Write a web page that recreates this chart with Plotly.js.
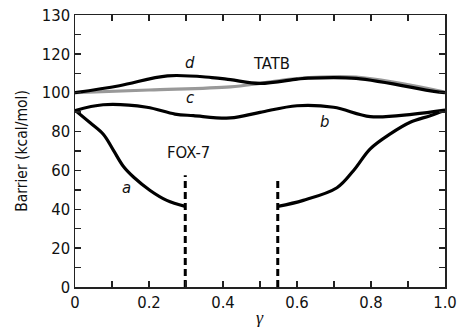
<!DOCTYPE html>
<html>
<head>
<meta charset="utf-8">
<script src="https://cdn.plot.ly/plotly-3.0.1.min.js"></script>
<style>html,body{margin:0;padding:0;background:#fff;}</style>
</head>
<body>
<div id="chart" style="width:458px;height:327px;"></div>
<script>
// Curve d (TATB, black)
var dX = [0, 0.12, 0.25, 0.37, 0.42, 0.5, 0.6, 0.63, 0.76, 0.97, 1.0];
var dY = [100, 103.6, 108.7, 107.8, 106.7, 104.8, 107, 107.5, 107.4, 100.7, 100];
// Curve c (TATB, grey)
var cX = [0, 0.2, 0.42, 0.5, 0.6, 0.76, 1.0];
var cY = [100, 101.4, 103, 104.8, 107.3, 108, 100.3];
// Curve b (FOX-7)
var bX = [0, 0.076, 0.194, 0.27, 0.32, 0.42, 0.5, 0.6, 0.699, 0.798, 0.915, 1.0];
var bY = [90.8, 93.8, 92.5, 89, 88.2, 87, 89.9, 93.3, 92.5, 87.7, 89, 91];
// Curve a (FOX-7), left and right branches
var aLeftX = [0, 0.041, 0.077, 0.104, 0.131, 0.158, 0.203, 0.248, 0.298];
var aLeftY = [91, 84.5, 78.5, 70.3, 62, 56.6, 49.7, 44.6, 41.5];
var aRightX = [0.548, 0.617, 0.708, 0.753, 0.798, 0.852, 0.906, 0.96, 1.0];
var aRightY = [41.5, 44.6, 51.1, 60, 71.1, 78.8, 84.8, 88.2, 91];
// Dashed vertical markers
var dashLeftX = [0.298, 0.298];
var dashLeftY = [0, 57.5];
var dashRightX = [0.548, 0.548];
var dashRightY = [0, 56];
// Ticks
var xTickVals = [0, 0.2, 0.4, 0.6, 0.8, 1.0];
var xTickText = ["0", "0.2", "0.4", "0.6", "0.8", "1.0"];
var yTickVals = [0, 20, 40, 60, 80, 100, 120, 140];
var yTickText = ["0", "20", "40", "60", "80", "100", "120", "130"];
// Labels
var labelText = ["d", "TATB", "c", "b", "FOX-7", "a"];
var labelX = [0.311, 0.53, 0.311, 0.673, 0.306, 0.138];
var labelY = [115.4, 114.9, 97.4, 85.1, 69.2, 51.3];
var labelItalic = [true, false, true, true, false, true];

var FONT = '"DejaVu Sans Condensed", "Liberation Sans Narrow", "Liberation Sans", Arial, sans-serif';
var lineBlack = {color: '#000', width: 3.2, shape: 'spline', smoothing: 1};

var traces = [
  {x: cX, y: cY, mode: 'lines', line: {color: '#999', width: 3.2, shape: 'spline', smoothing: 1}},
  {x: dX, y: dY, mode: 'lines', line: lineBlack},
  {x: bX, y: bY, mode: 'lines', line: lineBlack},
  {x: aLeftX, y: aLeftY, mode: 'lines', line: lineBlack},
  {x: aRightX, y: aRightY, mode: 'lines', line: lineBlack},
  {x: dashLeftX, y: dashLeftY, mode: 'lines', line: {color: '#000', width: 3, dash: '7px,4px'}},
  {x: dashRightX, y: dashRightY, mode: 'lines', line: {color: '#000', width: 3, dash: '7px,4px'}}
];

var annotations = labelText.map(function (t, i) {
  return {
    x: labelX[i], y: labelY[i], xref: 'x', yref: 'y',
    text: labelItalic[i] ? '<i>' + t + '</i>' : t,
    showarrow: false,
    font: {family: FONT, size: 16.5, color: '#111'}
  };
});
annotations.push({
  x: 0.5, y: -0.114, xref: 'paper', yref: 'paper', yanchor: 'middle',
  text: '<i>γ</i>', showarrow: false,
  font: {family: '"Liberation Serif", "DejaVu Serif", serif', size: 18, color: '#111'}
});

var axisCommon = {
  showline: true, linecolor: '#222', linewidth: 1.5, mirror: 'ticks',
  ticks: 'inside', ticklen: 6, tickwidth: 1.3, tickcolor: '#222',
  showgrid: false, zeroline: false,
  tickfont: {family: FONT, size: 16.5, color: '#111'}
};

var layout = {
  width: 458, height: 327,
  margin: {l: 75, r: 13, t: 15, b: 40},
  paper_bgcolor: '#fff', plot_bgcolor: '#fff',
  showlegend: false,
  xaxis: Object.assign({}, axisCommon, {
    range: [0, 1], tickmode: 'array', tickvals: xTickVals, ticktext: xTickText,
    minor: {dtick: 0.1, tick0: 0, ticks: 'inside', ticklen: 6, tickwidth: 1.3, tickcolor: '#222'}
  }),
  yaxis: Object.assign({}, axisCommon, {
    range: [0, 140], tickmode: 'array', tickvals: yTickVals, ticktext: yTickText,
    minor: {dtick: 10, tick0: 0, ticks: 'inside', ticklen: 6, tickwidth: 1.3, tickcolor: '#222'},
    title: {text: 'Barrier (kcal/mol)', font: {family: FONT, size: 15.5, color: '#111'}, standoff: 10}
  }),
  annotations: annotations
};

Plotly.newPlot('chart', traces, layout, {displayModeBar: false, staticPlot: true});
</script>
</body>
</html>
